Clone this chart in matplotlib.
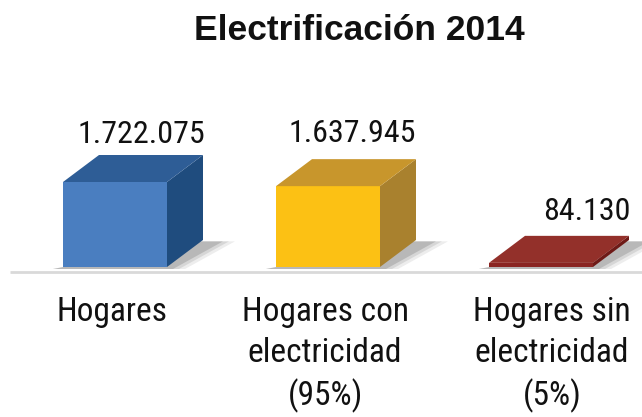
import matplotlib
matplotlib.use("Agg")
import matplotlib.pyplot as plt
from matplotlib.patches import Polygon

# ---- data ----
title = "Electrificación 2014"
categories = ["Hogares", "Hogares con\nelectricidad\n(95%)", "Hogares sin\nelectricidad\n(5%)"]
values = [1722075, 1637945, 84130]
value_labels = ["1.722.075", "1.637.945", "84.130"]

# ---- styles ----
front_colors = ["#4A7EC0", "#FCC114", "#8A2522"]
top_colors = ["#2E5D96", "#C8962C", "#93302A"]
side_colors = ["#1F4C7E", "#A9812E", "#6E1A17"]
label_dx_px = [26, 24, 46]
label_dy_px = [12, 17, 16]
cat_dx_px = [-3, -3, 11]

W_PX, H_PX = 642, 417
X0_PX, STEP_PX = 115, 213
BASE_PX = 267          # from top
FULL_PX = 85           # height of tallest bar in px
BAR_W_PX = 104
DX_PX, DY_PX = 36, 27
NARROW = ["Roboto Condensed", "DejaVu Sans"]

fig = plt.figure(figsize=(W_PX / 100, H_PX / 100), dpi=100)
ax = fig.add_axes([0, 0, 1, 1])
u = max(values) / FULL_PX
ax.set_xlim(-X0_PX / STEP_PX, (W_PX - X0_PX) / STEP_PX)
ax.set_ylim(-(H_PX - BASE_PX) * u, BASE_PX * u)
ax.axis("off")

px = 1.0 / STEP_PX
w = BAR_W_PX * px
dx = DX_PX * px
dy = DY_PX * u

# floor line
ax.plot([10 * px - X0_PX / STEP_PX, (W_PX - X0_PX) / STEP_PX], [-5 * u, -5 * u],
        color="#D9D9D9", lw=2, zorder=1, solid_capstyle="butt")

xs = list(range(len(values)))

# shadows (layered for soft look)
for x in xs:
    for k, a in enumerate([0.10, 0.14, 0.22]):
        grow = (3 - k) * 6 * px
        ax.add_patch(Polygon([
            (x - w / 2 - 10 * px, -2 * u),
            (x + w / 2 + grow, -2 * u),
            (x + w / 2 + dx + grow + 14 * px, dy * 0.95),
            (x + w / 2 + dx - 6 * px, dy * 0.95),
        ], closed=True, facecolor="#505050", edgecolor="none", alpha=a, zorder=2))

bars = ax.bar(xs, values, width=w, color=front_colors, zorder=4, linewidth=0)

for x, v, tc, sc in zip(xs, values, top_colors, side_colors):
    ax.add_patch(Polygon([(x + w / 2, 0), (x + w / 2 + dx, dy), (x + w / 2 + dx, v + dy), (x + w / 2, v)],
                         closed=True, facecolor=sc, edgecolor="none", zorder=3))
    ax.add_patch(Polygon([(x - w / 2, v), (x + w / 2, v), (x + w / 2 + dx, v + dy), (x - w / 2 + dx, v + dy)],
                         closed=True, facecolor=tc, edgecolor="none", zorder=5))

for x, v, lab, ldx, ldy in zip(xs, values, value_labels, label_dx_px, label_dy_px):
    ax.text(x + ldx * px, v + dy + ldy * u, lab, ha="center", va="baseline",
            fontsize=23, family=NARROW, color="#111111", zorder=6)

for x, cat, cdx in zip(xs, categories, cat_dx_px):
    ax.text(x + cdx * px, -(296 - BASE_PX) * u, cat, ha="center", va="top",
            fontsize=24, family=NARROW, color="#111111",
            linespacing=1.36, multialignment="center", zorder=6)

ax.text(0.559, 1 - 40 / H_PX, title, transform=ax.transAxes, ha="center", va="baseline",
        fontsize=25.5, fontweight="bold", family=["Liberation Sans", "DejaVu Sans"], color="#111111")

fig.savefig("out.png", dpi=100)
